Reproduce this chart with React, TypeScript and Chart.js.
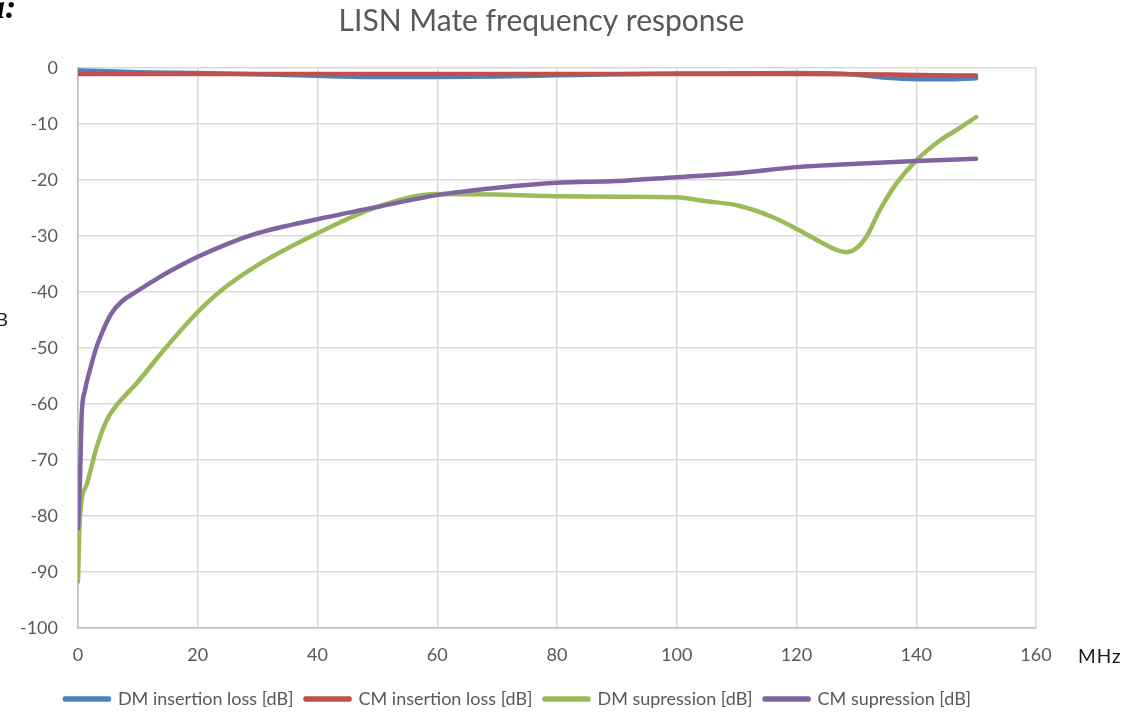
import React, { useEffect, useRef } from 'react';
import { Chart, registerables } from 'chart.js';

Chart.register(...registerables);

const chartTitle = 'LISN Mate frequency response';
const xUnit = 'MHz';
const yUnit = 'dB';

const seriesNames = [
  'DM insertion loss [dB]',
  'CM insertion loss [dB]',
  'DM supression [dB]',
  'CM supression [dB]',
];
const seriesColors = ['#4f81bd', '#c0504d', '#9bbb59', '#8064a2'];

// DM insertion loss
const dmInsFreq = [0, 5, 10, 20, 30, 40, 50, 60, 70, 80, 90, 100, 110, 120, 125, 130, 135, 140, 145, 150];
const dmInsVal = [-0.4, -0.6, -0.75, -0.9, -1.1, -1.4, -1.6, -1.6, -1.5, -1.3, -1.1, -1.0, -0.95, -0.9, -0.95, -1.2, -1.75, -2.0, -2.0, -1.85];

// CM insertion loss
const cmInsFreq = [0, 20, 40, 60, 80, 100, 120, 130, 140, 150];
const cmInsVal = [-1.05, -1.05, -1.05, -1.05, -1.05, -1.05, -1.05, -1.1, -1.25, -1.35];

// DM supression
const dmSupFreq = [0, 0.33, 1.45, 3.1, 4.8, 6.7, 9.8, 14.3, 19.8, 23.7, 30, 40, 50, 60, 70, 80, 90, 100, 105, 110, 116, 120.3, 124.4, 126.7, 128.4, 130, 131.7, 133.9, 136.7, 140.1, 144, 146.7, 150];
const dmSupVal = [-91.7, -80.1, -74.4, -67.8, -62.9, -59.9, -56.3, -50.4, -43.8, -39.9, -35.2, -29.5, -24.8, -22.5, -22.6, -22.9, -23.0, -23.1, -23.8, -24.5, -26.6, -28.9, -31.3, -32.5, -32.9, -32.2, -30.1, -25.4, -20.6, -16.4, -12.9, -11.1, -8.75];

// CM supression
const cmSupFreq = [0, 0.33, 0.6, 1.17, 2, 3.1, 4.2, 5.6, 7.3, 9.8, 12.6, 16, 20, 25, 30, 40, 50, 60, 70, 80, 90, 100, 110, 120, 130, 140, 150];
const cmSupVal = [-82.2, -73.6, -62.3, -57.5, -53.9, -49.8, -46.8, -43.8, -41.7, -39.9, -38.0, -35.9, -33.7, -31.4, -29.5, -27, -24.8, -22.7, -21.4, -20.5, -20.2, -19.5, -18.8, -17.7, -17.1, -16.6, -16.2];

const xMin = 0;
const xMax = 160;
const xStep = 20;
const yMin = -100;
const yMax = 0;
const yStep = 10;

const FONT = 'Lato, "Open Sans", sans-serif';

function toPoints(xs: number[], ys: number[]) {
  return xs.map((x, i) => ({ x, y: ys[i] }));
}

const extrasPlugin = {
  id: 'extras',
  afterDraw(chart: any) {
    const ctx = chart.ctx;
    ctx.save();
    ctx.fillStyle = '#595959';
    ctx.font = `30px ${FONT}`;
    ctx.textAlign = 'center';
    ctx.textBaseline = 'alphabetic';
    ctx.fillText(chartTitle, 541.5, 31);

    ctx.fillStyle = '#1a1a1a';
    ctx.font = `19px ${FONT}`;
    ctx.textAlign = 'left';
    ctx.textBaseline = 'middle';
    try { (ctx as any).letterSpacing = '1px'; } catch (e) {}
    ctx.fillText(xUnit, 1078, 657);
    try { (ctx as any).letterSpacing = '0px'; } catch (e) {}

    ctx.font = `18px ${FONT}`;
    ctx.textAlign = 'right';
    ctx.fillText(yUnit, 8, 320);

    ctx.fillStyle = '#000';
    ctx.font = `italic bold 34px "Liberation Serif", serif`;
    ctx.textAlign = 'left';
    ctx.textBaseline = 'alphabetic';
    ctx.fillText('a:', -12, 18);
    ctx.restore();
  },
};

export default function App() {
  const ref = useRef<HTMLCanvasElement | null>(null);

  useEffect(() => {
    document.body.style.margin = '0';
    const canvas = ref.current;
    if (!canvas) return;
    const datasets = [
      toPoints(dmInsFreq, dmInsVal),
      toPoints(cmInsFreq, cmInsVal),
      toPoints(dmSupFreq, dmSupVal),
      toPoints(cmSupFreq, cmSupVal),
    ].map((data, i) => ({
      label: seriesNames[i],
      data,
      borderColor: seriesColors[i],
      backgroundColor: seriesColors[i],
      borderWidth: 4.5,
      borderCapStyle: 'round' as const,
      borderJoinStyle: 'round' as const,
      pointRadius: 0,
      pointHoverRadius: 0,
      cubicInterpolationMode: 'monotone' as const,
      fill: false,
      order: 4 - i,
    }));

    const chart = new Chart(canvas, {
      type: 'line',
      data: { datasets },
      options: {
        animation: false,
        responsive: false,
        maintainAspectRatio: false,
        layout: { padding: { top: 68, right: 91, left: 0, bottom: 0 } },
        plugins: {
          title: { display: false },
          tooltip: { enabled: false },
          legend: {
            position: 'bottom',
            labels: {
              font: { family: FONT, size: 18 },
              color: '#595959',
              boxWidth: 44,
              boxHeight: 1,
              padding: 12,
              sort: (a: any, b: any) => a.datasetIndex - b.datasetIndex,
            },
          },
        },
        scales: {
          x: {
            type: 'linear',
            min: xMin,
            max: xMax,
            ticks: {
              stepSize: xStep,
              color: '#595959',
              font: { family: FONT, size: 18 },
              padding: 16,
            },
            grid: { color: '#d9d9d9', lineWidth: 1.5, drawTicks: false },
            border: { color: '#bfbfbf', width: 1.5 },
            afterFit: (scale: any) => {
              scale.height = 50;
            },
          },
          y: {
            type: 'linear',
            min: yMin,
            max: yMax,
            ticks: {
              stepSize: yStep,
              color: '#595959',
              font: { family: FONT, size: 18 },
              padding: 20,
            },
            grid: { color: '#d9d9d9', lineWidth: 1.5, drawTicks: false },
            border: { color: '#bfbfbf', width: 1.5 },
            afterFit: (scale: any) => {
              scale.width = 78;
            },
          },
        },
      },
      plugins: [extrasPlugin],
    });
    return () => chart.destroy();
  }, []);

  return (
    <div style={{ position: 'absolute', left: 0, top: 0, width: 1127, height: 718, background: '#fff' }}>
      <canvas ref={ref} width={1127} height={718} />
    </div>
  );
}
